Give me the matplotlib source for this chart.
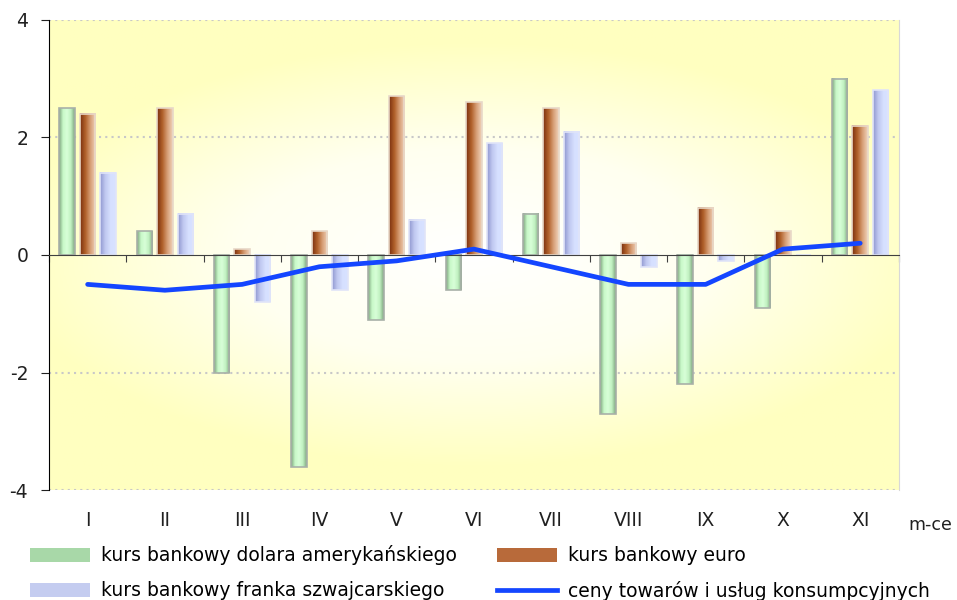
import numpy as np
import matplotlib.pyplot as plt
from matplotlib.patches import Patch
from matplotlib.lines import Line2D
from matplotlib.colors import LinearSegmentedColormap

miesiace = ['I', 'II', 'III', 'IV', 'V', 'VI', 'VII', 'VIII', 'IX', 'X', 'XI']
dolar = [2.5, 0.4, -2.0, -3.6, -1.1, -0.6, 0.7, -2.7, -2.2, -0.9, 3.0]
euro = [2.4, 2.5, 0.1, 0.4, 2.7, 2.6, 2.5, 0.2, 0.8, 0.4, 2.2]
frank = [1.4, 0.7, -0.8, -0.6, 0.6, 1.9, 2.1, -0.2, -0.1, 0.0, 2.8]
ceny = [-0.5, -0.6, -0.5, -0.2, -0.1, 0.1, -0.2, -0.5, -0.5, 0.1, 0.2]

etykiety = ['kurs bankowy dolara amerykańskiego', 'kurs bankowy euro',
            'kurs bankowy franka szwajcarskiego', 'ceny towarów i usług konsumpcyjnych']

plt.rcParams['font.family'] = ['DejaVu Sans']

fig = plt.figure(figsize=(9.57, 6), dpi=100)
ax = fig.add_axes([0.0512, 0.1833, 0.888, 0.7834])

x = np.arange(len(miesiace))

# tlo - gradient od bialego srodka do zoltego
gx, gy = np.meshgrid(np.linspace(-1, 1, 300), np.linspace(-1, 1, 200))
r = np.clip(np.sqrt((gx * 0.9) ** 2 + (gy * 1.1) ** 2), 0, 1)
tlo = LinearSegmentedColormap.from_list('tlo', ['#FFFFFF', '#FFFFF0', '#FFFFC0'])
ax.imshow(r, cmap=tlo, extent=[0, 1, 0, 1], transform=ax.transAxes,
          aspect='auto', zorder=0, vmin=0, vmax=1)

for yy in [-4, -2, 2, 4]:
    ax.axhline(yy, color='#C8C8C8', linestyle=(0, (1, 2)), linewidth=1.5, zorder=1)

cm_dolar = LinearSegmentedColormap.from_list('d', ['#7FA47F', '#C8F8C8', '#D8FFD8', '#C0F0C0', '#7FA47F'])
cm_euro = LinearSegmentedColormap.from_list('e', ['#7A3010', '#B0602A', '#D8A078', '#F0D4BC'])
cm_frank = LinearSegmentedColormap.from_list('f', ['#9098D0', '#C0C8F0', '#D6E0FF', '#D8E2FF'])

szer = 0.2
przes = 0.265
grad = np.linspace(0, 1, 64).reshape(1, -1)
for dane, dx, cmap, ramka in [(dolar, -przes, cm_dolar, '#A8B0A8'),
                               (euro, 0, cm_euro, '#E8D8C8'),
                               (frank, przes, cm_frank, '#E0E4F8')]:
    slupki = ax.bar(x + dx, dane, szer, color='none', edgecolor=ramka, linewidth=1.2, zorder=3)
    for s in slupki:
        x0, y0 = s.get_x(), s.get_y()
        w, h = s.get_width(), s.get_height()
        if h == 0:
            continue
        ax.imshow(grad, cmap=cmap, extent=[x0, x0 + w, y0, y0 + h],
                  aspect='auto', zorder=2)

ax.set_xlim(-0.5, len(miesiace) - 0.5)
ax.set_ylim(-4, 4)

ax.plot(x, ceny, color='#1446FF', linewidth=3.4, zorder=5, solid_capstyle='round')

ax.spines['top'].set_visible(False)
ax.spines['right'].set_color('#D8D8D8')
ax.spines['left'].set_color('black')
ax.spines['bottom'].set_position(('data', 0))
ax.spines['bottom'].set_color('#404040')
ax.spines['bottom'].set_zorder(4)

ax.set_xticks(np.arange(-0.5, len(miesiace)))
ax.set_xticklabels([])
ax.tick_params(axis='x', length=5, direction='out', color='#404040')
ax.set_yticks([-4, -2, 0, 2, 4])
ax.set_yticklabels(['-4', '-2', '0', '2', '4'])
ax.tick_params(axis='y', length=6, pad=9, direction='out', labelsize=13.5, colors='#202020')

for i, m in enumerate(miesiace):
    ax.text(i, -0.045, m, transform=ax.get_xaxis_transform(), ha='center', va='top',
            fontsize=13.5, color='#202020')
fig.text(0.972, 0.125, 'm-ce', ha='center', va='center', fontsize=12.5, color='#202020')

uchwyty = [Patch(facecolor='#A8D8A8', edgecolor='none'),
           Patch(facecolor='#B86A3A', edgecolor='none'),
           Patch(facecolor='#C4CCF0', edgecolor='none'),
           Line2D([0], [0], color='#1446FF', linewidth=3.4)]
# kolejnosc wierszami: dolar, euro / frank, ceny
kol = [0, 2, 1, 3]
fig.legend([uchwyty[i] for i in kol], [etykiety[i] for i in kol],
           loc='lower left', bbox_to_anchor=(0.031, -0.002), ncol=2,
           frameon=False, fontsize=13.5, handlelength=3.2, handleheight=0.8,
           columnspacing=2.15, labelspacing=0.85, handletextpad=0.6,
           borderpad=0, borderaxespad=0)

fig.savefig('out.png', dpi=100)
